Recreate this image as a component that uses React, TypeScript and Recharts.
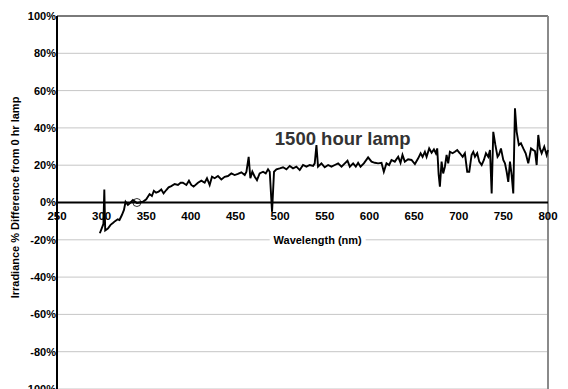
import React from 'react';
import { LineChart, Line, XAxis, YAxis, CartesianGrid, ReferenceLine, ReferenceDot } from 'recharts';

const wavelengths = [
  298, 300, 302, 303, 304, 307, 310, 312.6, 315, 318, 320, 322.7, 325, 326.8, 329.4, 332.4, 335, 339.5, 342.5, 346.2,
  350, 353.7, 356.3, 358.5, 361, 363.8, 366.8, 369.4, 372.4, 375, 378, 381.8, 385.5, 388.5, 391, 394.9, 397.8, 400.4,
  403, 407.9, 411.7, 415.4, 418, 421, 423.6, 426.6, 430.3, 434.1, 437.8, 441.5, 445.3, 449, 452.7, 456.5, 460.3, 462.2,
  464.7, 466.6, 468.8, 471.5, 474, 477, 480.8, 483.8, 486.4, 488.3, 490.9, 493.1, 495.8, 499.5, 503.2, 507, 510.7,
  514.4, 518.2, 521.9, 525.6, 529.4, 533.1, 536.9, 538.7, 540.6, 542.4, 546.2, 549.9, 553.7, 557.4, 561.2, 564.9, 568.7,
  572.4, 575.4, 578, 581.7, 584.7, 587.3, 590, 593.7, 598.5, 602.3, 606, 609.7, 613.5, 616.1, 619.1, 622, 624.7, 628.4,
  632.2, 634.8, 637, 639.6, 643.3, 647.1, 650.9, 654.6, 657.3, 659.5, 662.1, 664, 666.9, 669.6, 672.2, 674.4, 675.9,
  677.5, 678.9, 680.8, 682.6, 684.5, 686.4, 688.2, 690.1, 693.1, 695.7, 698.3, 701.3, 704.4, 706.9, 709.5, 711.8,
  714.4, 716.3, 718.2, 720.7, 723, 725.7, 728.2, 730.5, 733.1, 735, 736.9, 738.7, 741, 743.5, 745, 747.3, 749.9, 751.8,
  753.7, 755.5, 757.4, 759.3, 761.1, 763, 764.9, 767.4, 769.7, 772.3, 775, 777.9, 781, 783.5, 785.4, 787.3, 789.1, 791,
  792.9, 795.8, 798.5, 800,
];

const diffPct = [
  -16.5, -14, -11.5, 7, -15, -14, -12, -11, -10, -9, -9.4, -6.7, -4, 0.4, -1.3, 0, 1.3, -0.3, 0, 0.4,
  1.7, 4.5, 3.5, 6.3, 5.3, 5.8, 7, 4.9, 6.7, 8.1, 8.8, 9.9, 9.4, 10.6, 10.6, 9.4, 11.7, 9.4,
  8.5, 10.6, 11.7, 10.6, 13, 9.4, 13.8, 13, 14.2, 12.4, 13.8, 14.2, 15.6, 14.7, 15.3, 16.2, 14.7, 16.5,
  24.5, 13, 16.5, 13.8, 12, 15.6, 16.5, 15.6, 17.8, 16.5, -5, 16.5, 17.8, 18.3, 18.9, 17.8, 19.6,
  18.3, 19.2, 17.4, 20.1, 19.2, 20.1, 19.6, 21, 30.8, 19.2, 21, 18.9, 20.1, 19.2, 20.1, 21, 19.2,
  21, 22.4, 19.2, 21, 19.2, 21.3, 19.2, 21, 24.2, 21.9, 21.3, 21, 21.3, 16.5, 21, 20.1, 22.8, 21.9,
  24.5, 21.3, 25.5, 21.9, 23.2, 22.8, 20.6, 23.7, 26.4, 24.5, 27.2, 24.5, 29, 26.7, 28.5, 26.4, 29,
  15, 8.5, 21.9, 15.6, 19.2, 25.5, 21, 27.2, 26.4, 27.2, 28.1, 26.4, 24.5, 26.4, 16.5, 16.5,
  25.5, 27.2, 24.5, 26.4, 21.9, 20.1, 22.8, 26.4, 24.5, 28.1, 4.9, 37.9, 31, 24.5, 25.5, 29, 22.8, 21,
  16.5, 11.1, 21.9, 14.7, 4.9, 50.5, 37.9, 30.8, 31.7, 29, 26.4, 21, 29, 28.1, 27.6, 20.1, 36.2, 29,
  26.4, 29.9, 25.5, 28.1,
];

const xTicks = [250, 300, 350, 400, 450, 500, 550, 600, 650, 700, 750, 800];
const yTicks = [-100, -80, -60, -40, -20, 0, 20, 40, 60, 80, 100];

const titleText = '1500 hour lamp';
const xLabelText = 'Wavelength (nm)';
const yLabelText = 'Irradiance % Difference from 0 hr lamp';

const data = wavelengths.map((w, i) => ({ w, v: diffPct[i] }));

const FONT = '"Liberation Sans", Arial, sans-serif';

const YLabel = (props: any) => {
  const vb = props.viewBox || { x: 0, y: 0, width: 0, height: 0 };
  const cx = vb.x + 15;
  const cy = vb.y + vb.height / 2 - 5;
  return (
    <text
      x={cx}
      y={cy}
      transform={`rotate(-90 ${cx} ${cy})`}
      textAnchor="middle"
      dominantBaseline="central"
      fontFamily={FONT}
      fontWeight="bold"
      fontSize={11}
      fill="#000"
    >
      {yLabelText}
    </text>
  );
};

const XLabel = (props: any) => {
  const vb = props.viewBox || { x: 0, y: 0 };
  const cx = vb.x;
  const cy = vb.y;
  return (
    <g>
      <rect x={cx - 48} y={cy - 7} width={96} height={14} fill="#fff" />
      <text
        x={cx}
        y={cy}
        textAnchor="middle"
        dominantBaseline="central"
        fontFamily={FONT}
        fontWeight="bold"
        fontSize={11}
        fill="#000"
      >
        {xLabelText}
      </text>
    </g>
  );
};

export default function App() {
  return (
    <div style={{ position: 'absolute', left: 0, top: 0, background: '#fff' }}>
      <LineChart
        width={568}
        height={389}
        data={data}
        margin={{ top: 16, right: 20, bottom: 0, left: 0 }}
      >
        <CartesianGrid stroke="#c6c6c6" strokeWidth={1} />
        <XAxis
          dataKey="w"
          type="number"
          domain={[250, 800]}
          ticks={xTicks}
          height={0}
          tick={false}
          axisLine={false}
          tickLine={false}
        />
        <YAxis
          type="number"
          domain={[-100, 100]}
          ticks={yTicks}
          width={57}
          interval={0}
          tickFormatter={(v: number) => `${v}%`}
          tickSize={0}
          tickMargin={1}
          tickLine={false}
          axisLine={{ stroke: '#000', strokeWidth: 2 }}
          tick={{ fill: '#000', fontSize: 11, fontWeight: 'bold', fontFamily: FONT }}
          label={{ content: YLabel }}
        />
        <ReferenceLine y={100} stroke="#7a7a7a" strokeWidth={2} />
        <ReferenceLine x={800} stroke="#8a8a8a" strokeWidth={2} />
        <ReferenceDot x={542} y={-20} r={0.01} fill="none" stroke="none" label={{ content: XLabel }} />
        <Line
          type="linear"
          dataKey="v"
          stroke="#000"
          strokeWidth={1.9}
          dot={false}
          isAnimationActive={false}
        />
        <ReferenceLine y={0} stroke="#000" strokeWidth={2} />
        <ReferenceDot x={339.5} y={0} r={4} fill="none" stroke="#000" strokeWidth={0.8} />
        {xTicks.map((t) => (
          <ReferenceDot
            key={t}
            x={t}
            y={0}
            r={0.01}
            fill="none"
            stroke="none"
            label={{
              value: String(t),
              position: 'bottom',
              offset: 9,
              fill: '#000',
              fontSize: 11.5,
              fontWeight: 'bold',
              fontFamily: FONT,
            }}
          />
        ))}
        <ReferenceDot
          x={570}
          y={34.2}
          r={0.01}
          fill="none"
          stroke="none"
          label={{
            value: titleText,
            position: 'center',
            fill: '#333',
            fontSize: 18.5,
            fontWeight: 'bold',
            fontFamily: FONT,
          }}
        />
      </LineChart>
    </div>
  );
}
